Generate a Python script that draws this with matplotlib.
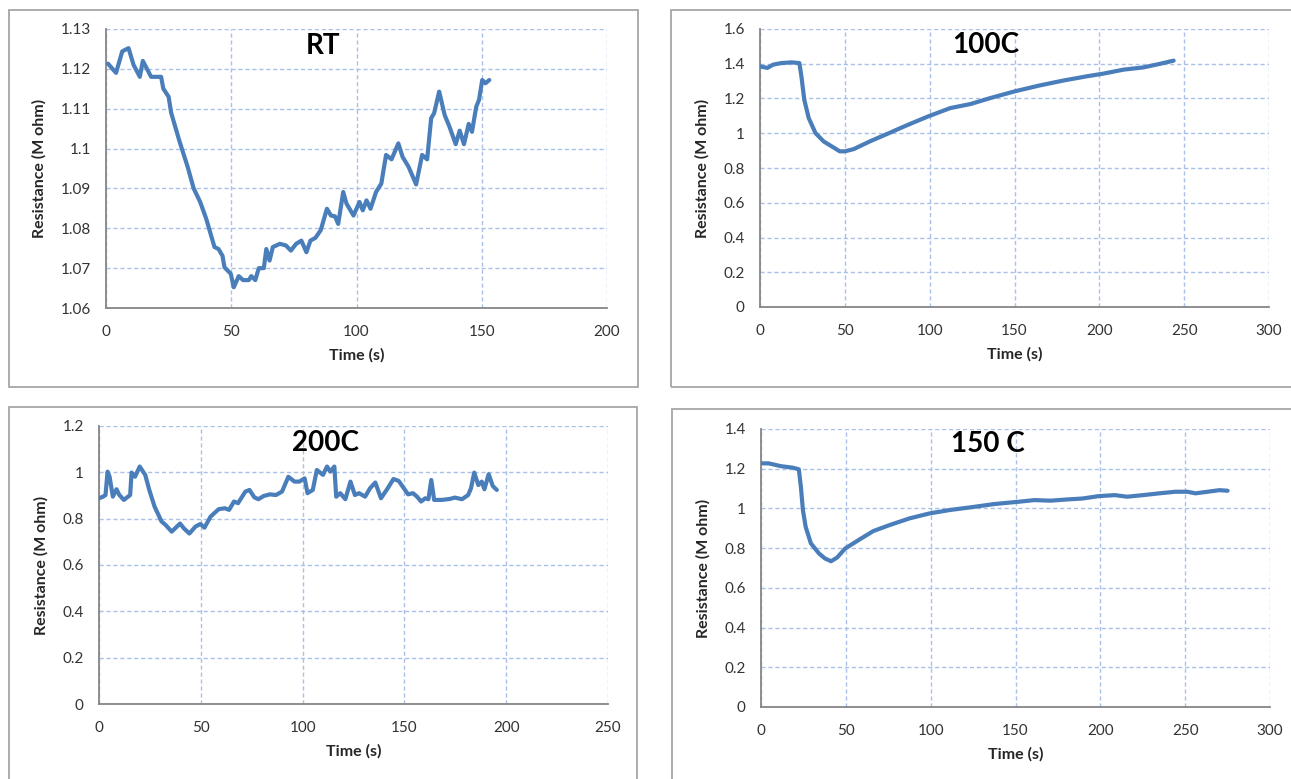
import matplotlib
matplotlib.use("Agg")
import matplotlib.pyplot as plt
import numpy as np
from matplotlib.patches import Rectangle
from matplotlib.ticker import FuncFormatter

plt.rcParams['font.family'] = ['Lato', 'DejaVu Sans']

# ---------------- data ----------------
rt_time = [0.8, 4, 6.5, 9, 11, 13.5, 14.7, 18, 20.4, 22, 22.9, 25, 26, 29.4, 32.6, 35, 37.6, 40,
           43.3, 44.9, 46.5, 47.3, 49.8, 51, 53, 54.7, 57, 58, 59.6, 61, 63, 64, 65.3, 66.6, 69.4,
           71.8, 73.8, 75.9, 78, 80, 81.6, 83.6, 85.7, 88.2, 89.8, 91.4, 92.7, 94.7, 96, 98.8,
           101.2, 102.5, 104, 105.6, 107.8, 109.9, 111.8, 114, 116.7, 118.4, 120.8, 123.8, 126.2,
           128.2, 129.8, 131, 133, 135.2, 137.1, 139.6, 141.2, 142.9, 144.8, 146.1, 147.8, 148.9,
           150.2, 151.5, 153]
rt_res = [1.1213, 1.119, 1.1244, 1.1252, 1.121, 1.118, 1.122, 1.118, 1.118, 1.118, 1.115, 1.113,
          1.109, 1.1017, 1.0954, 1.09, 1.0866, 1.0824, 1.0753, 1.0748, 1.0731, 1.0702, 1.0686,
          1.0652, 1.068, 1.067, 1.067, 1.068, 1.067, 1.070, 1.070, 1.0748, 1.0719, 1.0753, 1.0761,
          1.0757, 1.0744, 1.0761, 1.0769, 1.074, 1.0769, 1.0776, 1.0795, 1.0849, 1.0832, 1.083,
          1.0811, 1.0891, 1.0862, 1.0832, 1.0866, 1.0845, 1.087, 1.0849, 1.0891, 1.0912, 1.0984,
          1.0973, 1.1013, 1.0979, 1.0954, 1.091, 1.0984, 1.0973, 1.1076, 1.1089, 1.1143, 1.1084,
          1.1055, 1.1011, 1.1045, 1.1011, 1.1062, 1.1042, 1.1105, 1.1122, 1.1172, 1.1164, 1.1172]

c100_time = [0, 4.3, 7.8, 12.6, 18.5, 23.2, 24.4, 26.1, 28.7, 32.7, 37.5, 42.2, 47, 50, 55.3,
             64.7, 75.4, 86.1, 99.1, 112.2, 124, 135.9, 150.1, 164.3, 178.6, 192.8, 202.3,
             214.2, 226, 235.5, 243.8]
c100_res = [1.385, 1.376, 1.395, 1.404, 1.408, 1.404, 1.328, 1.193, 1.088, 1.001, 0.953, 0.925,
            0.896, 0.896, 0.909, 0.953, 0.998, 1.044, 1.097, 1.145, 1.168, 1.203, 1.241, 1.274,
            1.303, 1.328, 1.343, 1.366, 1.379, 1.399, 1.418]

c200_time = [0, 2, 3.2, 4.2, 5.2, 6.8, 8.6, 10, 12.2, 15.3, 16, 17.7, 20, 22.7, 24.7, 27.3, 30.7,
             32.7, 35.7, 39.8, 41.8, 44.4, 47.4, 49.8, 51.8, 54.8, 58.8, 61.8, 63.9, 66.3, 68.3,
             71.9, 73.9, 76.3, 78.3, 80.9, 83.9, 86.9, 89.9, 93, 96, 98.4, 101, 102.4, 105, 107,
             110, 112, 113.6, 115.6, 116.5, 118.5, 121, 123.5, 125.7, 127.7, 130.7, 133.1, 135.7,
             138.5, 141.8, 144.6, 147.2, 151.8, 154.2, 156.2, 158.2, 160.2, 161.8, 163.2, 164.6,
             168.3, 172.3, 174.7, 178.3, 181.3, 182.7, 184.3, 186.3, 188, 189.3, 191.4, 193.4,
             195.4]
c200_res = [0.888, 0.895, 0.902, 1.003, 0.981, 0.895, 0.927, 0.902, 0.881, 0.902, 0.999, 0.981,
            1.025, 0.989, 0.924, 0.852, 0.788, 0.773, 0.744, 0.779, 0.757, 0.736, 0.766, 0.777,
            0.761, 0.809, 0.841, 0.845, 0.838, 0.874, 0.867, 0.917, 0.924, 0.892, 0.884, 0.898,
            0.905, 0.902, 0.917, 0.981, 0.960, 0.960, 0.974, 0.910, 0.924, 1.010, 0.989, 1.025,
            1.003, 1.025, 0.895, 0.910, 0.884, 0.960, 0.902, 0.910, 0.895, 0.931, 0.956, 0.888,
            0.931, 0.971, 0.963, 0.905, 0.910, 0.895, 0.874, 0.888, 0.884, 0.967, 0.881, 0.881,
            0.885, 0.891, 0.884, 0.902, 0.931, 0.999, 0.945, 0.960, 0.927, 0.992, 0.941, 0.924]

c150_time = [0, 4.5, 11.6, 18.8, 22.3, 23.5, 24.7, 26.3, 29.4, 34.2, 37.7, 41.3, 44.9, 49.6,
             54.4, 59.1, 66.2, 75.7, 87.6, 99.4, 111.3, 125.6, 137.4, 152.3, 161.2, 170.6, 180.1,
             189.6, 199.1, 208.6, 215.7, 225.2, 234.7, 244.2, 251.3, 256.1, 263.2, 270.3, 275]
c150_res = [1.227, 1.227, 1.213, 1.205, 1.197, 1.109, 0.992, 0.908, 0.824, 0.773, 0.748, 0.734,
            0.753, 0.798, 0.824, 0.849, 0.886, 0.916, 0.950, 0.975, 0.992, 1.008, 1.022, 1.034,
            1.042, 1.039, 1.045, 1.050, 1.062, 1.067, 1.059, 1.067, 1.076, 1.084, 1.084, 1.076,
            1.084, 1.092, 1.089]

W, H = 1291, 779
fig = plt.figure(figsize=(W / 100, H / 100), dpi=100)

LINE = '#4a7ebb'
GRID = '#a9c1e8'
SPINE = '#868686'
TXT = '#262626'


def px_rect(l, t, r, b):
    return [l / W, 1 - b / H, (r - l) / W, (b - t) / H]


def fmt(v, pos):
    return ('%.2f' % v).rstrip('0').rstrip('.')


def panel(rect, x, y, xlim, xstep, ylim, ystep, title, title_px, frame):
    l, t, r, b = frame
    fig.patches.append(Rectangle((l / W, 1 - b / H), (r - l) / W, (b - t) / H,
                                 transform=fig.transFigure, fill=False,
                                 edgecolor='#a6a6a6', linewidth=1.3))
    ax = fig.add_axes(px_rect(*rect))
    ax.plot(x, y, color=LINE, linewidth=3.0, solid_joinstyle='round',
            solid_capstyle='round', zorder=3)
    ax.set_xlim(*xlim)
    ax.set_ylim(*ylim)
    ax.set_xticks(np.arange(xlim[0], xlim[1] + xstep / 2, xstep))
    ax.set_yticks(np.arange(ylim[0], ylim[1] + ystep / 2, ystep))
    ax.yaxis.set_major_formatter(FuncFormatter(fmt))
    ax.xaxis.set_major_formatter(FuncFormatter(fmt))
    ax.grid(True, color=GRID, linestyle=(0, (3, 2)), linewidth=1.0, zorder=0)
    ax.set_axisbelow(True)
    for s in ['top', 'right']:
        ax.spines[s].set_visible(False)
    for s in ['left', 'bottom']:
        ax.spines[s].set_color(SPINE)
        ax.spines[s].set_linewidth(1.3)
    ax.tick_params(length=0, labelsize=11, colors='#333333', pad=11)
    ax.tick_params(axis='x', pad=12)
    ax.set_xlabel('Time (s)', fontsize=11.5, fontweight='bold', color=TXT, labelpad=7)
    ax.set_ylabel('Resistance (M ohm)', fontsize=11.5, fontweight='bold', color=TXT,
                  labelpad=10)
    tx, ty = title_px
    fig.text(tx / W, 1 - ty / H, title, fontsize=20, fontweight='bold', color='black',
             ha='center', va='center')
    return ax


panel((106, 29, 607, 308), rt_time, rt_res, (0, 200), 50, (1.06, 1.13), 0.01,
      'RT', (323, 46), (9, 10, 638, 387))
panel((760, 29, 1269, 307), c100_time, c100_res, (0, 300), 50, (0, 1.6), 0.2,
      '100C', (986, 45), (671, 10, 1300, 387))
panel((99, 426, 608, 704), c200_time, c200_res, (0, 250), 50, (0, 1.2), 0.2,
      '200C', (325, 443), (9, 407, 637, 790))
panel((761, 429, 1270, 707), c150_time, c150_res, (0, 300), 50, (0, 1.4), 0.2,
      '150 C', (988, 444), (672, 409, 1300, 790))

fig.savefig('out.png', dpi=100)
